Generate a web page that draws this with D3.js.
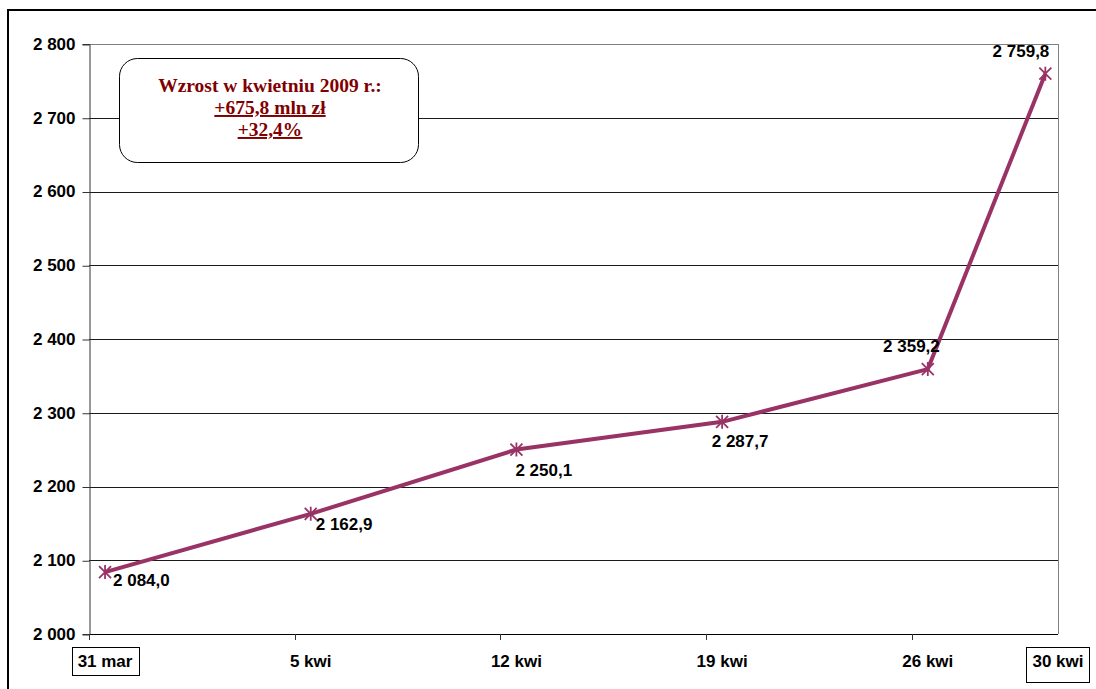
<!DOCTYPE html>
<html>
<head>
<meta charset="utf-8">
<script src="https://cdn.jsdelivr.net/npm/d3@7/dist/d3.min.js"></script>
<style>
  body { margin: 0; background: #fff; }
  svg { display: block; }
</style>
</head>
<body>
<svg id="chart"></svg>
<script>
// dane: tygodnie kwietnia 2009
const categories = ['31 mar', '5 kwi', '12 kwi', '19 kwi', '26 kwi', '30 kwi']
const weeks = [0, 1, 2, 3, 4, 4 + 4 / 7]   // 30 kwi to niepelny tydzien
const values = [2084.0, 2162.9, 2250.1, 2287.7, 2359.2, 2759.8]
const yTicks = [2000, 2100, 2200, 2300, 2400, 2500, 2600, 2700, 2800]
const noteLines = ['Wzrost w kwietniu 2009 r.:', '+675,8 mln zł', '+32,4%']

const width = 1096
const height = 689
const lineColor = '#993366'
const noteColor = '#800000'
const sans = '"Liberation Sans", Arial, sans-serif'

let svg = d3.select('#chart').attr('width', width).attr('height', height)

// ramka calego wykresu
svg.append('rect')
  .attr('x', 8).attr('y', 10)
  .attr('width', 1100).attr('height', 700)
  .attr('fill', 'none').attr('stroke', '#000').attr('stroke-width', 2)

const plot = { left: 89, right: 1058, top: 44, bottom: 634 }

let x = d3.scaleLinear().domain([-0.078, 4.633]).range([plot.left, plot.right])
let y = d3.scaleLinear().domain([2000, 2800]).range([plot.bottom, plot.top])

// siatka
svg.append('g').selectAll('line').data(yTicks.filter(t => t > 2000)).enter()
  .append('line')
  .attr('x1', plot.left).attr('x2', plot.right)
  .attr('y1', d => Math.round(y(d)) + 0.5).attr('y2', d => Math.round(y(d)) + 0.5)
  .attr('stroke', d => d === 2800 ? '#808080' : '#1a1a1a').attr('stroke-width', 1)

// prawa krawedz obszaru
svg.append('line')
  .attr('x1', plot.right + 0.5).attr('x2', plot.right + 0.5)
  .attr('y1', plot.top).attr('y2', plot.bottom)
  .attr('stroke', '#808080')

// os Y
let yAxis = d3.axisLeft(y).tickValues(yTicks).tickSize(7).tickPadding(7)
  .tickFormat(d => d3.format(',')(d).replace(',', ' '))
let gy = svg.append('g').attr('transform', `translate(${plot.left + 0.5},0)`).call(yAxis)
gy.select('.domain').attr('stroke', '#333')
gy.selectAll('.tick line').attr('stroke', '#333').attr('transform', 'translate(0,0.5)')
gy.selectAll('text')
  .attr('font-family', sans)
  .attr('font-weight', 'bold').attr('font-size', 17).attr('fill', '#000')

// os X
svg.append('line')
  .attr('x1', plot.left).attr('x2', plot.right)
  .attr('y1', plot.bottom + 0.5).attr('y2', plot.bottom + 0.5)
  .attr('stroke', '#000')
svg.append('g').selectAll('line').data(d3.range(5)).enter()
  .append('line')
  .attr('x1', d => Math.round(x(d - 0.078)) + 0.5).attr('x2', d => Math.round(x(d - 0.078)) + 0.5)
  .attr('y1', plot.bottom).attr('y2', plot.bottom + 6)
  .attr('stroke', '#333')

let xLabels = svg.append('g').selectAll('g').data(categories).enter().append('g')
xLabels.append('text')
  .attr('x', (d, i) => i === categories.length - 1 ? plot.right : x(weeks[i]))
  .attr('y', 667)
  .attr('text-anchor', 'middle')
  .attr('font-family', sans)
  .attr('font-weight', 'bold').attr('font-size', 17)
  .text(d => d)
// ramki wokol pierwszej i ostatniej etykiety
xLabels.filter((d, i) => i === 0 || i === categories.length - 1)
  .each(function () {
    const g = d3.select(this)
    const b = g.select('text').node().getBBox()
    const last = g.datum() === categories[categories.length - 1]
    g.insert('rect', 'text')
      .attr('x', Math.round(b.x - 6) + 0.5).attr('y', 647.5)
      .attr('width', Math.round(b.width + 12)).attr('height', last ? 35 : 28)
      .attr('fill', '#fff').attr('stroke', '#000')
  })

// linia
let line = d3.line().x((d, i) => x(weeks[i])).y(d => y(d))
svg.append('path').datum(values)
  .attr('d', line)
  .attr('fill', 'none').attr('stroke', lineColor).attr('stroke-width', 4)
  .attr('stroke-linejoin', 'miter')

// znaczniki gwiazdki
let star = 'M-6,-6L6,6M-6,6L6,-6M0,-7L0,7'
svg.append('g').selectAll('path').data(values).enter()
  .append('path')
  .attr('transform', (d, i) => `translate(${x(weeks[i])},${y(d)})`)
  .attr('d', star)
  .attr('stroke', lineColor).attr('stroke-width', 1.8).attr('fill', 'none')

// etykiety wartosci: przesuniecie wzgledem punktu
const labelOffsets = [[8, 14, 'start'], [5, 16, 'start'], [-1, 26, 'start'], [18, 25, 'middle'], [12, -17, 'end'], [4, -17, 'end']]
svg.append('g').selectAll('text').data(values).enter()
  .append('text')
  .attr('x', (d, i) => x(weeks[i]) + labelOffsets[i][0])
  .attr('y', (d, i) => y(d) + labelOffsets[i][1])
  .attr('text-anchor', (d, i) => labelOffsets[i][2])
  .attr('font-family', sans)
  .attr('font-weight', 'bold').attr('font-size', 17)
  .text(d => d3.format(',.1f')(d).replace(',', ' ').replace('.', ','))

// ramka z komentarzem
let note = svg.append('g')
note.append('rect')
  .attr('x', 119.5).attr('y', 58.5).attr('width', 299).attr('height', 104)
  .attr('rx', 18).attr('ry', 18)
  .attr('fill', '#fff').attr('stroke', '#000').attr('stroke-width', 1)
note.selectAll('text').data(noteLines).enter()
  .append('text')
  .attr('x', 270)
  .attr('y', (d, i) => [92, 114, 136][i])
  .attr('text-anchor', 'middle')
  .attr('font-family', '"Liberation Serif", "DejaVu Serif", serif')
  .attr('font-weight', 'bold').attr('font-size', 19.5)
  .attr('fill', noteColor)
  .attr('text-decoration', (d, i) => i > 0 ? 'underline' : null)
  .text(d => d)
</script>
</body>
</html>
